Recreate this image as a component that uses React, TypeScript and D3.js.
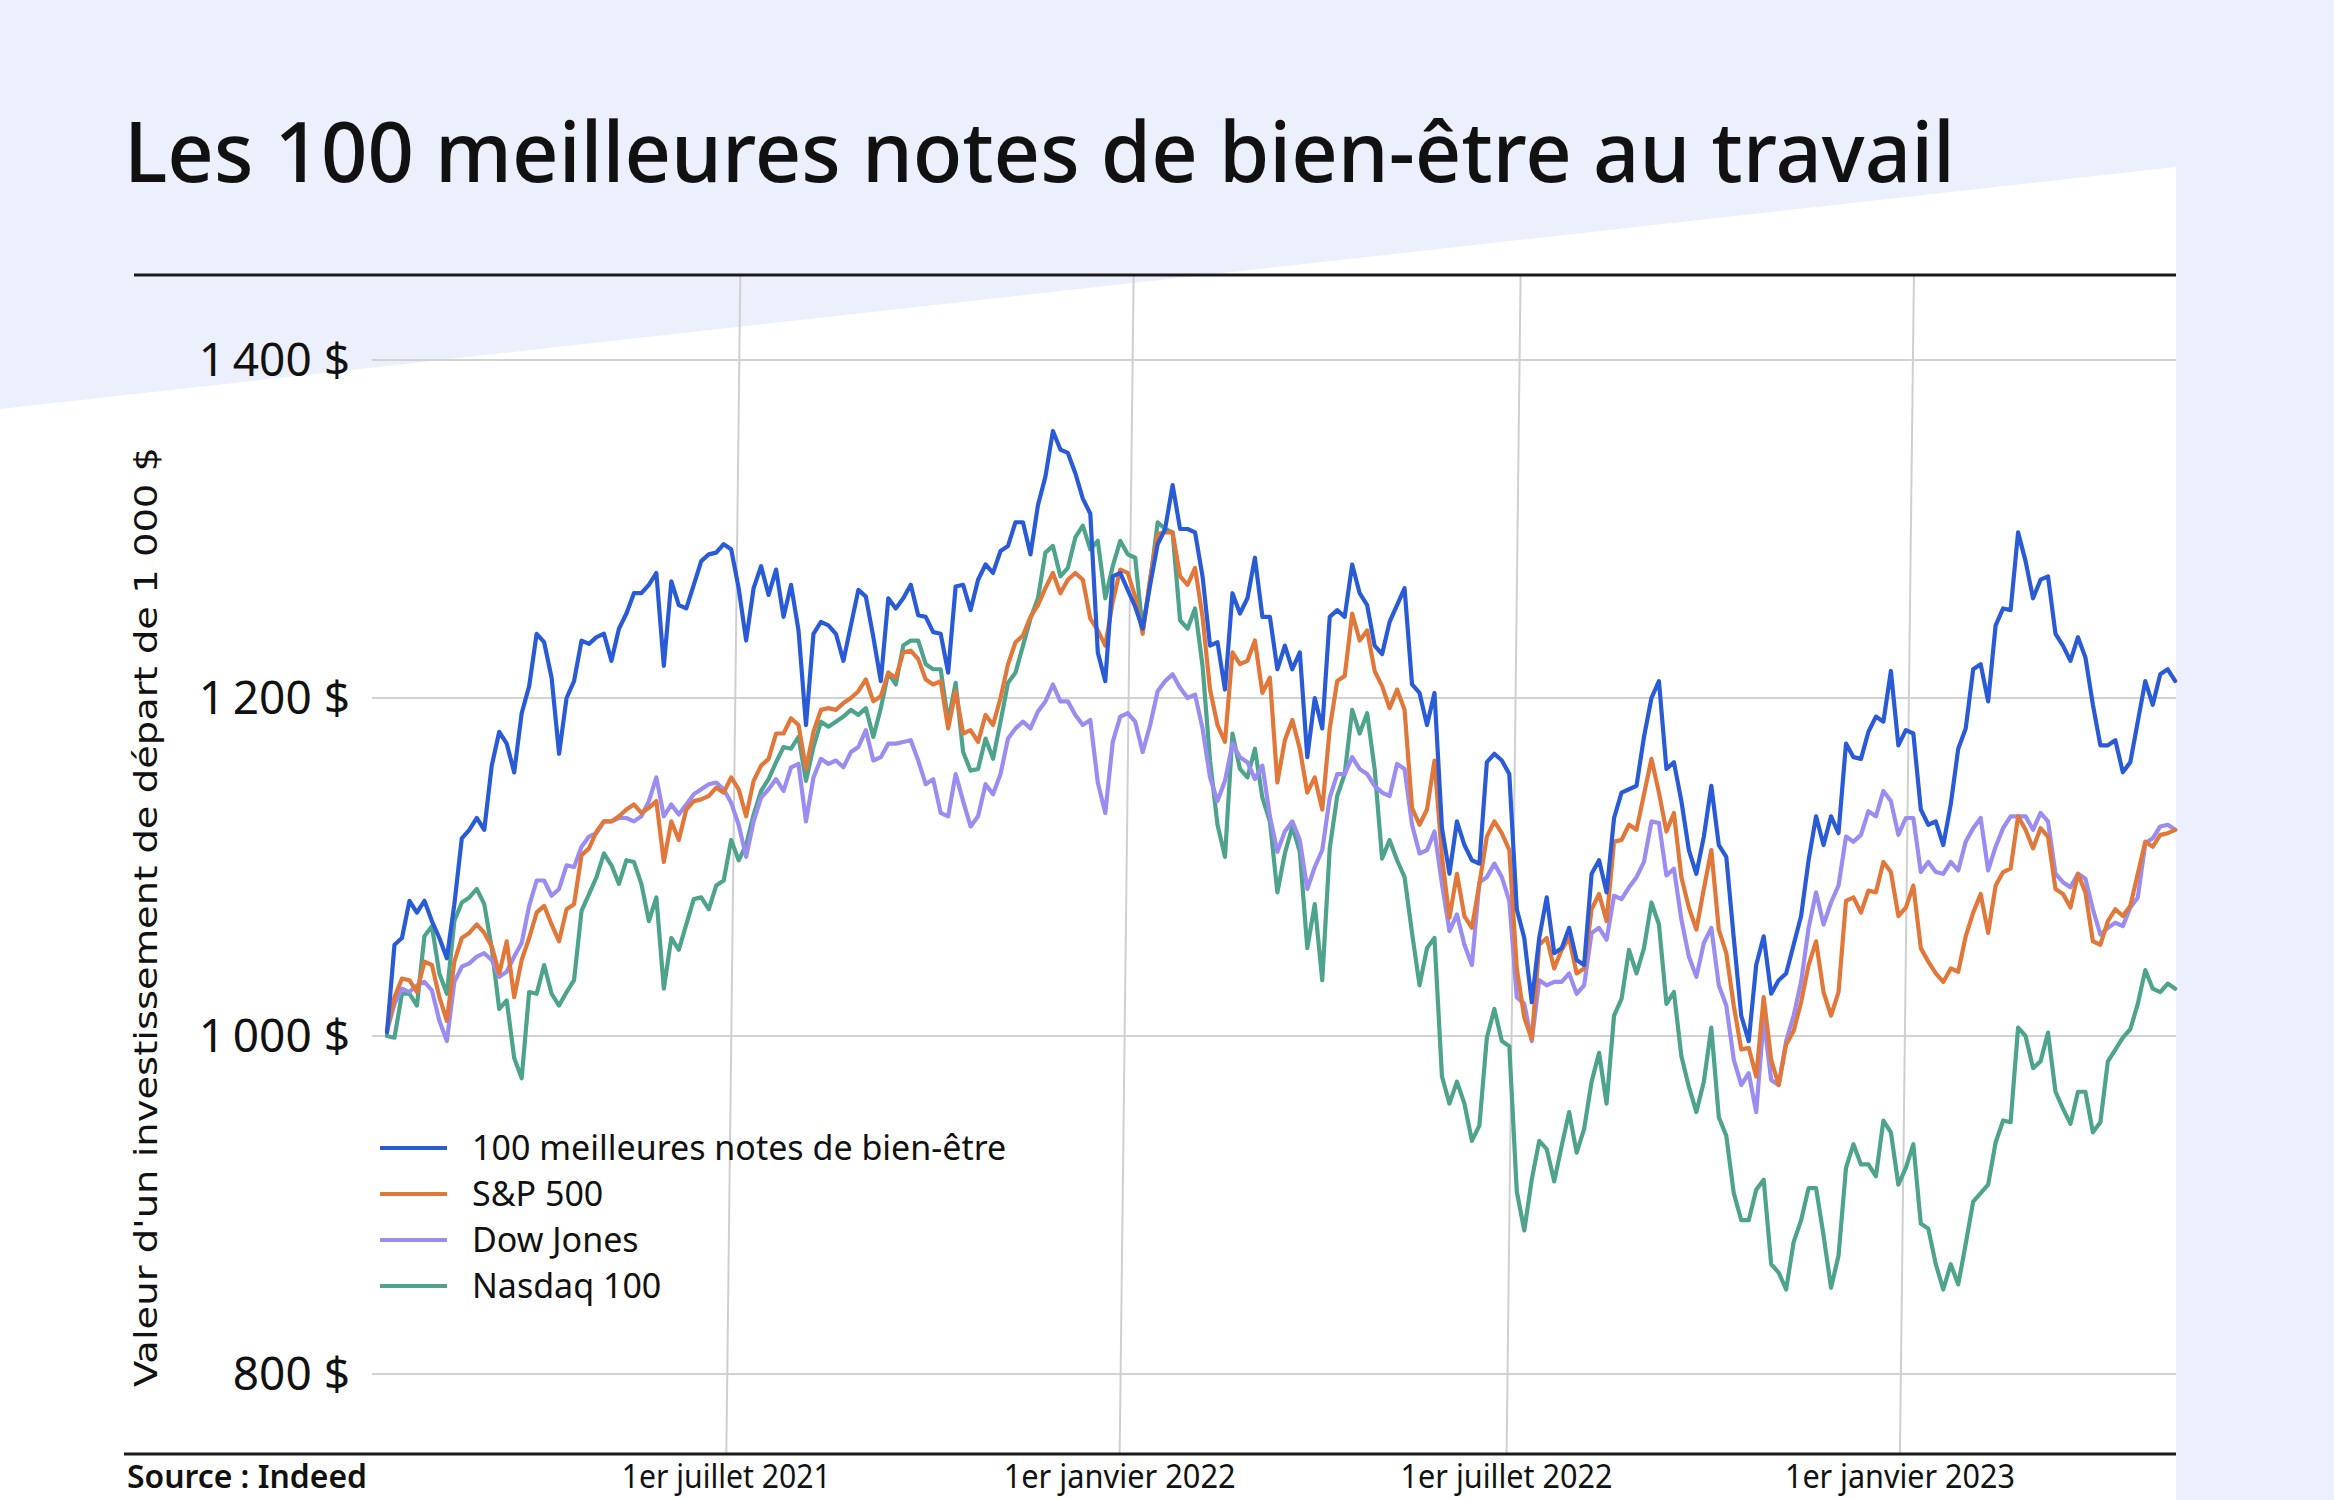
import * as d3 from 'd3'

// half-weekly closes from 20 Jan 2021: value of a 1 000 $ investment
const START = new Date(2021, 0, 20)
const END = new Date(2023, 4, 5)

const wellbeing = [
  1002, 1054, 1058, 1080, 1073, 1080, 1068, 1058, 1046, 1078, 1117, 1122, 1129, 1122, 1160, 1180,
  1173, 1156, 1191, 1207, 1238, 1233, 1212, 1167, 1200, 1210, 1234, 1232, 1236, 1238, 1222, 1241,
  1250, 1262, 1262, 1267, 1274, 1219, 1269, 1255, 1253, 1267, 1281, 1285, 1286, 1291, 1288, 1265,
  1234, 1265, 1278, 1261, 1276, 1248, 1267, 1240, 1184, 1238, 1245, 1243, 1238, 1222, 1243, 1264,
  1260, 1236, 1210, 1259, 1253, 1259, 1267, 1249, 1248, 1239, 1238, 1215, 1266, 1267, 1252, 1270,
  1279, 1274, 1287, 1290, 1304, 1304, 1285, 1314, 1331, 1358, 1347, 1345, 1333, 1318, 1309, 1227,
  1210, 1272, 1274, 1264, 1254, 1241, 1267, 1291, 1300, 1326, 1300, 1300, 1298, 1272, 1231, 1233,
  1205, 1262, 1250, 1259, 1283, 1248, 1248, 1217, 1231, 1217, 1227, 1165, 1200, 1182, 1248, 1252,
  1248, 1279, 1262, 1255, 1231, 1226, 1245, 1255, 1265, 1208, 1203, 1184, 1203, 1123, 1096, 1127,
  1113, 1104, 1102, 1162, 1167, 1163, 1155, 1075, 1058, 1020, 1058, 1082, 1049, 1052, 1064, 1045,
  1042, 1096, 1104, 1085, 1129, 1144, 1146, 1148, 1177, 1200, 1210, 1158, 1162, 1139, 1110, 1096,
  1118, 1148, 1113, 1106, 1058, 1012, 997, 1042, 1059, 1025, 1033, 1037, 1054, 1071, 1104, 1130,
  1113, 1130, 1120, 1173, 1165, 1164, 1180, 1189, 1186, 1216, 1172, 1181, 1179, 1134, 1125, 1127,
  1113, 1137, 1170, 1182, 1217, 1220, 1198, 1243, 1253, 1252, 1298, 1281, 1259, 1270, 1272, 1238,
  1231, 1222, 1236, 1224, 1196, 1172, 1172, 1175, 1156, 1162, 1186, 1210, 1196, 1214, 1217, 1210,
]

const sp500 = [
  1003, 1023, 1034, 1033, 1026, 1044, 1042, 1023, 1009, 1044, 1058, 1061, 1066, 1061, 1053, 1037,
  1056, 1023, 1045, 1058, 1073, 1077, 1066, 1056, 1075, 1078, 1107, 1111, 1121, 1127, 1127, 1130,
  1134, 1137, 1132, 1135, 1139, 1103, 1127, 1116, 1134, 1139, 1140, 1142, 1147, 1144, 1153, 1146,
  1130, 1151, 1160, 1164, 1179, 1179, 1188, 1184, 1158, 1180, 1193, 1194, 1193, 1197, 1200, 1204,
  1211, 1198, 1201, 1215, 1212, 1227, 1228, 1223, 1211, 1208, 1210, 1182, 1204, 1179, 1181, 1174,
  1190, 1184, 1200, 1220, 1233, 1237, 1248, 1255, 1265, 1274, 1262, 1270, 1274, 1270, 1247, 1240,
  1231, 1257, 1276, 1274, 1260, 1238, 1271, 1297, 1298, 1298, 1272, 1267, 1277, 1248, 1205, 1184,
  1174, 1227, 1220, 1222, 1234, 1203, 1212, 1150, 1175, 1187, 1170, 1144, 1153, 1134, 1182, 1210,
  1213, 1250, 1234, 1240, 1216, 1207, 1194, 1205, 1193, 1135, 1125, 1134, 1163, 1106, 1070, 1096,
  1071, 1064, 1090, 1118, 1127, 1120, 1110, 1040, 1011, 998, 1054, 1058, 1040, 1051, 1058, 1037,
  1040, 1075, 1084, 1068, 1115, 1116, 1125, 1122, 1143, 1164, 1144, 1121, 1132, 1094, 1076, 1063,
  1087, 1110, 1063, 1049, 1018, 992, 993, 976, 1023, 986, 971, 995, 1003, 1020, 1042, 1056,
  1026, 1012, 1026, 1080, 1082, 1073, 1086, 1085, 1103, 1097, 1071, 1076, 1089, 1052, 1044, 1037,
  1032, 1040, 1038, 1059, 1073, 1084, 1061, 1089, 1097, 1099, 1130, 1122, 1111, 1123, 1118, 1087,
  1084, 1076, 1096, 1085, 1056, 1054, 1068, 1075, 1071, 1077, 1096, 1115, 1112, 1119, 1120, 1122,
]

const dowJones = [
  1003, 1019, 1028, 1026, 1030, 1032, 1027, 1009, 997, 1032, 1041, 1043, 1047, 1049, 1045, 1035,
  1038, 1047, 1055, 1077, 1092, 1092, 1083, 1087, 1101, 1100, 1112, 1118, 1120, 1127, 1127, 1129,
  1129, 1127, 1130, 1139, 1153, 1130, 1137, 1131, 1137, 1143, 1146, 1149, 1150, 1146, 1138, 1125,
  1106, 1127, 1141, 1146, 1152, 1145, 1159, 1161, 1127, 1153, 1164, 1161, 1163, 1159, 1168, 1171,
  1181, 1163, 1165, 1173, 1173, 1174, 1175, 1163, 1149, 1152, 1132, 1130, 1155, 1139, 1124, 1130,
  1149, 1143, 1155, 1176, 1182, 1186, 1182, 1192, 1198, 1208, 1198, 1198, 1190, 1184, 1187, 1150,
  1132, 1174, 1189, 1191, 1186, 1168, 1184, 1204, 1210, 1214, 1206, 1200, 1202, 1182, 1153, 1139,
  1151, 1173, 1165, 1162, 1152, 1160, 1130, 1109, 1121, 1127, 1116, 1087, 1100, 1110, 1141, 1155,
  1155, 1165, 1158, 1155, 1148, 1144, 1142, 1161, 1158, 1125, 1108, 1110, 1121, 1090, 1062, 1072,
  1054, 1042, 1091, 1094, 1102, 1094, 1080, 1023, 1019, 997, 1033, 1030, 1032, 1032, 1037, 1025,
  1030, 1061, 1064, 1057, 1083, 1081, 1088, 1094, 1103, 1127, 1126, 1095, 1099, 1069, 1047, 1035,
  1055, 1064, 1030, 1018, 986, 971, 978, 955, 1010, 974, 971, 997, 1012, 1032, 1064, 1085,
  1066, 1079, 1089, 1118, 1115, 1119, 1133, 1130, 1145, 1139, 1119, 1129, 1129, 1097, 1103, 1097,
  1096, 1103, 1098, 1115, 1123, 1129, 1098, 1112, 1123, 1130, 1130, 1130, 1122, 1132, 1127, 1096,
  1091, 1088, 1096, 1093, 1075, 1060, 1064, 1067, 1065, 1076, 1082, 1114, 1117, 1124, 1125, 1122,
]

const nasdaq = [
  1000, 999, 1025, 1025, 1018, 1059, 1065, 1037, 1025, 1068, 1079, 1082, 1087, 1078, 1052, 1016,
  1021, 987, 975, 1026, 1025, 1042, 1025, 1018, 1026, 1033, 1074, 1084, 1094, 1108, 1101, 1090,
  1104, 1103, 1090, 1068, 1082, 1028, 1058, 1051, 1066, 1081, 1082, 1075, 1089, 1092, 1116, 1104,
  1113, 1131, 1145, 1152, 1162, 1171, 1170, 1177, 1151, 1171, 1186, 1183, 1186, 1189, 1193, 1190,
  1194, 1177, 1194, 1215, 1208, 1231, 1234, 1234, 1220, 1217, 1217, 1186, 1209, 1168, 1157, 1158,
  1176, 1164, 1186, 1209, 1215, 1231, 1247, 1259, 1286, 1290, 1272, 1277, 1295, 1302, 1288, 1293,
  1259, 1278, 1293, 1285, 1283, 1240, 1269, 1304, 1300, 1298, 1246, 1241, 1253, 1219, 1163, 1125,
  1106, 1179, 1158, 1153, 1170, 1141, 1127, 1085, 1108, 1124, 1109, 1052, 1078, 1033, 1111, 1142,
  1155, 1193, 1179, 1191, 1158, 1105, 1116, 1104, 1094, 1061, 1030, 1052, 1058, 976, 960, 973,
  960, 938, 947, 999, 1016, 997, 994, 908, 885, 915, 938, 933, 914, 935, 955, 931,
  945, 973, 990, 960, 1012, 1022, 1051, 1037, 1052, 1079, 1066, 1019, 1026, 988, 970, 955,
  973, 1005, 952, 941, 907, 891, 891, 909, 915, 865, 860, 850, 878, 891, 910, 910,
  882, 851, 870, 922, 936, 924, 924, 917, 950, 943, 912, 922, 936, 889, 886, 865,
  850, 865, 853, 877, 902, 907, 912, 937, 950, 949, 1005, 1000, 981, 985, 1002, 967,
  957, 948, 967, 967, 943, 949, 985, 992, 999, 1004, 1019, 1039, 1028, 1026, 1031, 1028,
]

const seriesNames = ['100 meilleures notes de bien-être', 'S&P 500', 'Dow Jones', 'Nasdaq 100']
const seriesValues = [wellbeing, sp500, dowJones, nasdaq]
const colors = ['#2a5bd7', '#e2773a', '#9a8cf0', '#4ea38d']

const yTicks = [800, 1000, 1200, 1400]
const xTicks = [new Date(2021, 6, 1), new Date(2022, 0, 1), new Date(2022, 6, 1), new Date(2023, 0, 1)]
const xTickLabels = ['1er juillet 2021', '1er janvier 2022', '1er juillet 2022', '1er janvier 2023']
const xTickWidths = [209, 232, 212, 230]

// one point every 3.5 days
const dates = wellbeing.map((_, i) => d3.timeHour.offset(START, 84 * i))

const W = 2334
const H = 1500
const FONT = '"Noto Sans", "Open Sans", sans-serif'

export default function App() {
  const x = d3.scaleTime().domain([START, END]).range([387, 2172])
  const y = d3.scaleLinear().domain([800, 1400]).range([1374, 360])

  const line = d3.line<number>()
    .x((_, i) => x(dates[i]))
    .y(d => y(d))

  const fmt = (v: number) => d3.format(',')(v).replace(',', '\u202F') + ' $'

  return (
    <div>
      <style>{'body{margin:0}'}</style>
      <svg width={W} height={H} style={{ display: 'block' }}>
        <rect width={W} height={H} fill="#ecf0fd" />
        <polygon points={`0,409 2176,167 2176,${H} 0,${H}`} fill="#ffffff" />

        <text x={124} y={182} fontFamily={FONT} fontSize={84} fontWeight={500}
          fill="#111" textLength={1831} lengthAdjust="spacingAndGlyphs">
          Les 100 meilleures notes de bien-être au travail
        </text>

        {yTicks.map(t => (
          <g key={t}>
            <line x1={372} x2={2176} y1={y(t)} y2={y(t)} stroke="#d2d2d2" strokeWidth={2} />
            <text x={350} y={y(t) + 16} textAnchor="end" fontFamily={FONT} fontSize={46} fill="#111">
              {fmt(t)}
            </text>
          </g>
        ))}

        {xTicks.map((t, i) => (
          <g key={i}>
            <line x1={x(t) + 7} x2={x(t) - 7} y1={275} y2={1454} stroke="#cfcfcf" strokeWidth={2} />
            <text x={x(t) - 7} y={1488} textAnchor="middle" fontFamily={FONT} fontSize={32}
              fill="#111" textLength={xTickWidths[i]} lengthAdjust="spacingAndGlyphs">
              {xTickLabels[i]}
            </text>
          </g>
        ))}

        <line x1={134} x2={2176} y1={275} y2={275} stroke="#1a1a1a" strokeWidth={3} />
        <line x1={124} x2={2176} y1={1454} y2={1454} stroke="#1a1a1a" strokeWidth={3} />

        <text x={127} y={1488} fontFamily={FONT} fontSize={32} fontWeight={600} fill="#111"
          textLength={240} lengthAdjust="spacingAndGlyphs">
          Source : Indeed
        </text>

        <text transform="translate(157,917) rotate(-90)" textAnchor="middle"
          fontFamily='"DejaVu Sans", sans-serif' fontSize={32} fill="#111"
          textLength={940} lengthAdjust="spacingAndGlyphs">
          Valeur d'un investissement de départ de 1 000 $
        </text>

        {[3, 2, 1, 0].map(k => (
          <path key={k} d={line(seriesValues[k]) ?? ''} fill="none" stroke={colors[k]}
            strokeWidth={4.2} strokeLinejoin="round" strokeLinecap="round" />
        ))}

        {seriesNames.map((name, k) => (
          <g key={name} transform={`translate(380,${1148 + k * 46})`}>
            <line x1={0} x2={67} y1={0} y2={0} stroke={colors[k]} strokeWidth={4} />
            <text x={92} y={12} fontFamily={FONT} fontSize={34} fill="#111">{name}</text>
          </g>
        ))}
      </svg>
    </div>
  )
}
